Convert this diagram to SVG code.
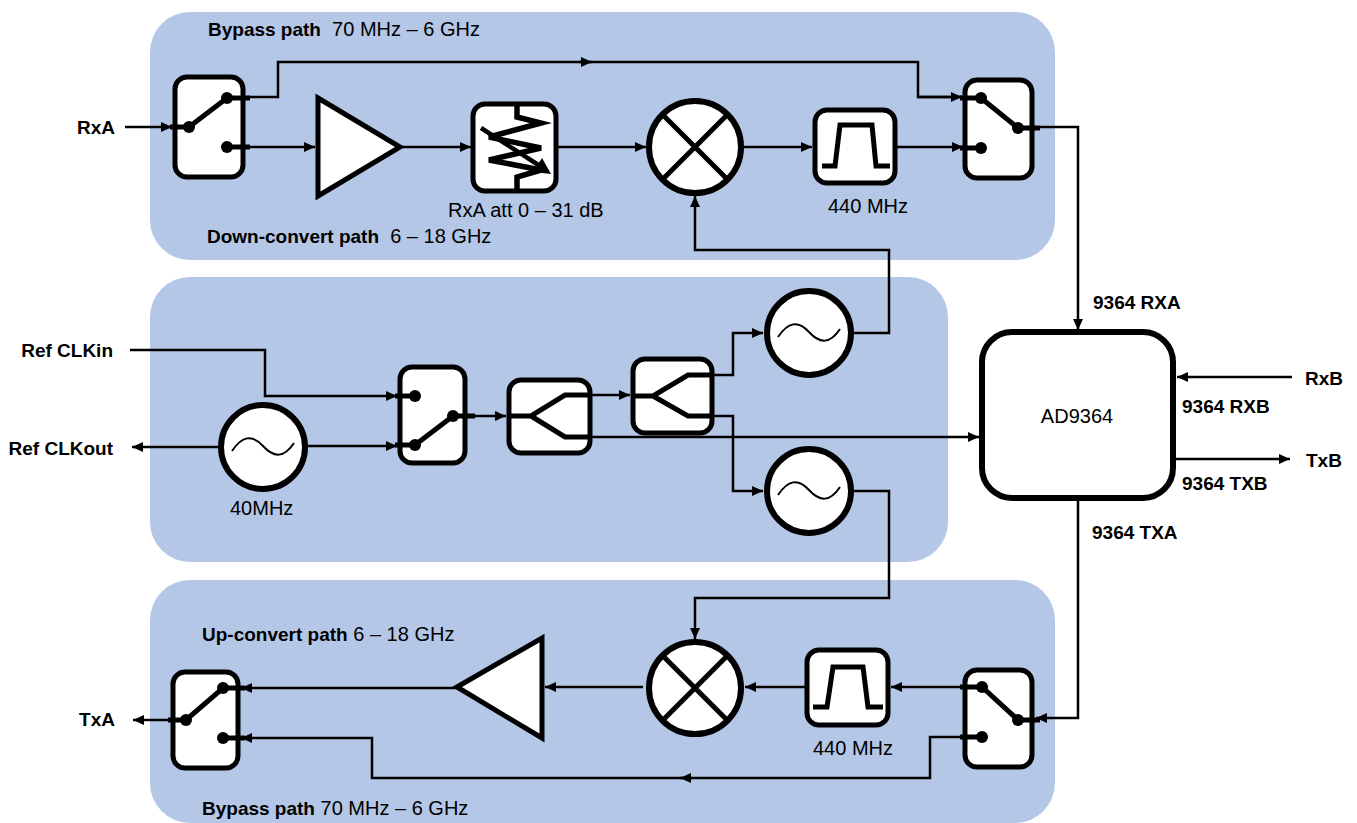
<svg xmlns="http://www.w3.org/2000/svg" width="1357" height="823" viewBox="0 0 1357 823">
<defs>
<style>
.panel{fill:#b4c7e7}
.box{fill:#fff;stroke:#000;stroke-width:5}
.circ{fill:#fff;stroke:#000;stroke-width:6}
.thick{fill:none;stroke:#000;stroke-width:5}
.wire{fill:none;stroke:#000;stroke-width:2.5}
.arr{marker-end:url(#ah)}
text{font-family:"Liberation Sans",Arial,sans-serif;font-size:20px;fill:#000}
.b{font-weight:bold;font-size:19px}
</style>
<marker id="ah" markerUnits="userSpaceOnUse" markerWidth="12" markerHeight="10" refX="11" refY="5" orient="auto">
<path d="M0,0 L11,5 L0,10 z" fill="#000"/>
</marker>
<g id="sine"><path d="M-31,4 C-21,-11 -11,-13 0,-1 S21,11 31,-4" fill="none" stroke="#000" stroke-width="2"/></g>
</defs>
<rect width="1357" height="823" fill="#fff"/>
<g id="panels">
<rect class="panel" x="150" y="12" width="905" height="248" rx="40"/>
<rect class="panel" x="150" y="277" width="798" height="285" rx="40"/>
<rect class="panel" x="150" y="580" width="905" height="243" rx="40"/>
</g>
<g id="connectors">
<path class="wire arr" d="M125,127 L172,127"/>
<path class="wire" d="M248,97 L278,97 L278,62 L918,62 L918,97 L962,97"/>
<path class="wire arr" d="M579,62 L592,62"/>
<path class="wire arr" d="M248,147 L315,147"/>
<path class="wire arr" d="M402,147 L471,147"/>
<path class="wire arr" d="M558,147 L646,147"/>
<path class="wire arr" d="M744,147 L812,147"/>
<path class="wire arr" d="M897,147 L963,147"/>
<path class="wire arr" d="M918,97 L962,97"/>
<path class="wire arr" d="M1040,127 L1078,127 L1078,330"/>
<path class="wire arr" d="M852,333 L889,333 L889,250 L695,250 L695,196"/>
<path class="wire arr" d="M130,350 L265,350 L265,396 L397,396"/>
<path class="wire arr" d="M220,447 L132,447"/>
<path class="wire arr" d="M306,446 L397,446"/>
<path class="wire arr" d="M475,416 L506,416"/>
<path class="wire arr" d="M590,395 L630,395"/>
<path class="wire arr" d="M590,437 L979,437"/>
<path class="wire arr" d="M712,375 L733,375 L733,333 L763,333"/>
<path class="wire arr" d="M712,416 L733,416 L733,491 L763,491"/>
<path class="wire arr" d="M852,491 L889,491 L889,598 L695,598 L695,639"/>
<path class="wire arr" d="M1292,377 L1177,377"/>
<path class="wire arr" d="M1176,459 L1290,459"/>
<path class="wire arr" d="M1078,498 L1078,718 L1036,718"/>
<path class="wire arr" d="M962,687 L891,687"/>
<path class="wire arr" d="M805,687 L745,687"/>
<path class="wire arr" d="M643,687 L545,687"/>
<path class="wire arr" d="M457,688 L241,688"/>
<path class="wire" d="M962,737 L930,737 L930,778 L372,778 L372,738 L260,738"/>
<path class="wire arr" d="M260,738 L241,738"/>
<path class="wire arr" d="M692,778 L680,778"/>
<path class="wire arr" d="M168,720 L133,720"/>
</g>
<g id="rx-switch-in">
<rect class="box" x="175" y="77" width="68" height="100" rx="12"/>
<path class="thick" d="M170,127 L189,127 L227,98 L250,98 M227,147 L250,147"/>
<circle cx="189" cy="127" r="6"/><circle cx="227" cy="98" r="6"/><circle cx="227" cy="147" r="6"/>
</g>
<g id="rx-amp"><polygon class="box" points="318,98 318,196 400,147"/></g>
<g id="rx-att">
<rect class="box" x="473" y="104" width="83" height="87" rx="12"/>
<path fill="none" stroke="#000" stroke-width="5.5" stroke-linejoin="miter" d="M517,106 L517,117 L541,123 L489,137 L541,148 L489,160 L541,170 L517,177 L517,190"/>
<path fill="none" stroke="#000" stroke-width="4.5" d="M481,128 L540,166"/>
<polygon points="551,174 533,172 542,158" fill="#000"/>
</g>
<g id="rx-mixer">
<circle class="circ" cx="695" cy="147" r="46"/>
<path class="thick" d="M662,114 L728,180 M728,114 L662,180"/>
</g>
<g id="rx-filter">
<rect class="box" x="815" y="110" width="80" height="73" rx="12"/>
<path class="thick" d="M822,166 L835,166 L840,125 L872,125 L876,166 L890,166"/>
</g>
<g id="rx-switch-out">
<rect class="box" x="965" y="80" width="67" height="98" rx="12"/>
<path class="thick" d="M960,98 L981,98 L1018,128 L1040,128 M960,148 L981,148"/>
<circle cx="981" cy="98" r="6"/><circle cx="981" cy="148" r="6"/><circle cx="1018" cy="128" r="6"/>
</g>
<g id="ref-osc">
<circle class="circ" cx="263" cy="447" r="42"/>
<use href="#sine" x="263" y="447"/>
</g>
<g id="ref-switch">
<rect class="box" x="400" y="367" width="65" height="96" rx="12"/>
<path class="thick" d="M395,396 L415,396 M395,445 L415,445 L453,416 L475,416"/>
<circle cx="415" cy="396" r="6"/><circle cx="415" cy="445" r="6"/><circle cx="453" cy="416" r="6"/>
</g>
<g id="splitter1">
<rect class="box" x="509" y="380" width="81" height="73" rx="12"/>
<path class="thick" d="M509,416 L531,416 L565,395 L590,395 M531,416 L565,437 L590,437"/>
</g>
<g id="splitter2">
<rect class="box" x="633" y="359" width="79" height="74" rx="12"/>
<path class="thick" d="M633,396 L653,396 L688,375 L712,375 M653,396 L688,416 L712,416"/>
</g>
<g id="lo-rx">
<circle class="circ" cx="809" cy="333" r="42"/>
<use href="#sine" x="809" y="333"/>
</g>
<g id="lo-tx">
<circle class="circ" cx="809" cy="491" r="42"/>
<use href="#sine" x="809" y="491"/>
</g>
<g id="ad9364">
<rect fill="#fff" stroke="#000" stroke-width="6" x="982" y="332" width="191" height="166" rx="30"/>
<text x="1077" y="423" text-anchor="middle">AD9364</text>
</g>
<g id="tx-switch-in">
<rect class="box" x="965" y="670" width="67" height="97" rx="12"/>
<path class="thick" d="M960,687 L982,687 L1018,720 L1040,720 M960,737 L982,737"/>
<circle cx="982" cy="687" r="6"/><circle cx="982" cy="737" r="6"/><circle cx="1018" cy="720" r="6"/>
</g>
<g id="tx-filter">
<rect class="box" x="807" y="650" width="81" height="75" rx="12"/>
<path class="thick" d="M813,707 L827,707 L833,667 L863,667 L868,707 L883,707"/>
</g>
<g id="tx-mixer">
<circle class="circ" cx="695" cy="688" r="46"/>
<path class="thick" d="M662,655 L728,721 M728,655 L662,721"/>
</g>
<g id="tx-amp"><polygon class="box" points="457,687 542,638 542,738"/></g>
<g id="tx-switch-out">
<rect class="box" x="173" y="672" width="65" height="96" rx="12"/>
<path class="thick" d="M245,688 L223,688 L186,720 L168,720 M223,738 L245,738"/>
<circle cx="223" cy="688" r="6"/><circle cx="186" cy="720" r="6"/><circle cx="223" cy="738" r="6"/>
</g>
<g id="labels">
<text x="208" y="36" xml:space="preserve"><tspan class="b">Bypass path</tspan>  70 MHz – 6 GHz</text>
<text x="207" y="243" xml:space="preserve"><tspan class="b">Down-convert path</tspan>  6 – 18 GHz</text>
<text x="448" y="217">RxA att 0 – 31 dB</text>
<text x="828" y="213">440 MHz</text>
<text x="813" y="755">440 MHz</text>
<text x="230" y="515">40MHz</text>
<text x="202" y="641" xml:space="preserve"><tspan class="b">Up-convert path</tspan> 6 – 18 GHz</text>
<text x="202" y="815" xml:space="preserve"><tspan class="b">Bypass path</tspan> 70 MHz – 6 GHz</text>
<text class="b" x="115" y="134" text-anchor="end">RxA</text>
<text class="b" x="115" y="726" text-anchor="end">TxA</text>
<text class="b" x="113" y="357" text-anchor="end">Ref CLKin</text>
<text class="b" x="113" y="455" text-anchor="end">Ref CLKout</text>
<text class="b" x="1093" y="309">9364 RXA</text>
<text class="b" x="1092" y="539">9364 TXA</text>
<text class="b" x="1182" y="413">9364 RXB</text>
<text class="b" x="1182" y="490">9364 TXB</text>
<text class="b" x="1305" y="385">RxB</text>
<text class="b" x="1306" y="467">TxB</text>
</g>
</svg>
